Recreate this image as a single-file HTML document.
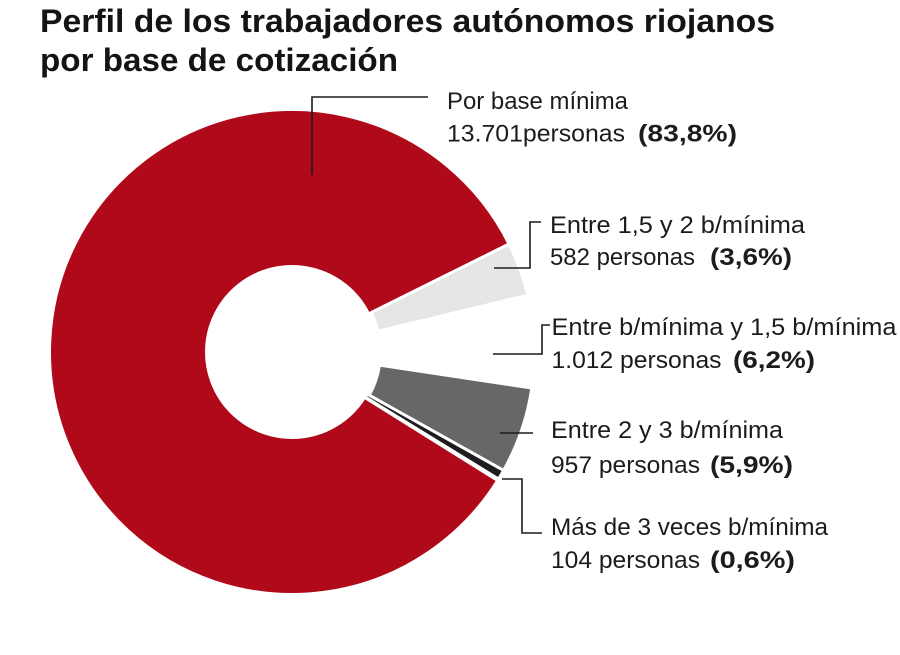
<!DOCTYPE html>
<html>
<head>
<meta charset="utf-8">
<style>
  html, body { margin:0; padding:0; background:#ffffff; }
  svg { display:block; }
  .t { font-family: "Liberation Sans", "DejaVu Sans", sans-serif; font-size:24px; fill:#1c1c1c; }
  .b { font-family: "Liberation Sans", "DejaVu Sans", sans-serif; font-size:24px; font-weight:bold; fill:#1c1c1c; }
  .h { font-family: "Liberation Sans", "DejaVu Sans", sans-serif; font-size:32px; font-weight:bold; fill:#141414; }
</style>
</head>
<body>
<svg width="900" height="655" viewBox="0 0 900 655" xmlns="http://www.w3.org/2000/svg">
  <rect x="0" y="0" width="900" height="655" fill="#ffffff"/>

  <!-- Title -->
  <text class="h" x="40" y="32" textLength="735" lengthAdjust="spacingAndGlyphs">Perfil de los trabajadores autónomos riojanos</text>
  <text class="h" x="40" y="71" textLength="358" lengthAdjust="spacingAndGlyphs">por base de cotización</text>

  <!-- Donut slices -->
  <g stroke="#ffffff" stroke-width="3" stroke-linejoin="miter">
    <path d="M 497.65 480.51 A 242.5 242.5 0 1 1 509.14 244.02 L 368.56 313.93 A 85.5 85.5 0 1 0 364.51 397.31 Z" fill="#b00a1a"/>
    <path d="M 509.14 244.02 A 242.5 242.5 0 0 1 527.75 295.18 L 378.04 331.26 A 88.5 88.5 0 0 0 371.24 312.59 Z" fill="#e6e6e6"/>
    <path d="M 531.81 388.05 A 242.5 242.5 0 0 1 503.58 470.49 L 369.22 395.24 A 88.5 88.5 0 0 0 379.52 365.16 Z" fill="#666769"/>
    <path d="M 503.58 470.49 A 242.5 242.5 0 0 1 498.54 479.07 L 365.25 397.06 A 86 86 0 0 0 367.04 394.02 Z" fill="#1d1d1d"/>
  </g>

  <!-- Leader lines -->
  <g fill="none" stroke="#1c1c1c" stroke-width="1.6">
    <polyline points="312,175 312,97 428,97"/>
    <polyline points="494,268 530,268 530,222 541,222"/>
    <polyline points="493,354 542,354 542,325 550,325"/>
    <polyline points="500,433 533,433"/>
    <polyline points="502,479 522,479 522,533 542,533"/>
  </g>

  <!-- Labels -->
  <text class="t" x="447" y="109" textLength="181" lengthAdjust="spacingAndGlyphs">Por base mínima</text>
  <text class="t" x="447" y="141.5" textLength="178" lengthAdjust="spacingAndGlyphs">13.701personas</text>
  <text class="b" x="638" y="141.5" textLength="99" lengthAdjust="spacingAndGlyphs">(83,8%)</text>

  <text class="t" x="550" y="233" textLength="255" lengthAdjust="spacingAndGlyphs">Entre 1,5 y 2 b/mínima</text>
  <text class="t" x="550" y="265" textLength="145" lengthAdjust="spacingAndGlyphs">582 personas</text>
  <text class="b" x="710" y="265" textLength="82" lengthAdjust="spacingAndGlyphs">(3,6%)</text>

  <text class="t" x="551.5" y="335" textLength="345" lengthAdjust="spacingAndGlyphs">Entre b/mínima y 1,5 b/mínima</text>
  <text class="t" x="551.5" y="368" textLength="170" lengthAdjust="spacingAndGlyphs">1.012 personas</text>
  <text class="b" x="733" y="368" textLength="82" lengthAdjust="spacingAndGlyphs">(6,2%)</text>

  <text class="t" x="551" y="438" textLength="232" lengthAdjust="spacingAndGlyphs">Entre 2 y 3 b/mínima</text>
  <text class="t" x="551" y="473" textLength="149" lengthAdjust="spacingAndGlyphs">957 personas</text>
  <text class="b" x="710" y="473" textLength="83" lengthAdjust="spacingAndGlyphs">(5,9%)</text>

  <text class="t" x="551" y="535" textLength="277" lengthAdjust="spacingAndGlyphs">Más de 3 veces b/mínima</text>
  <text class="t" x="551" y="568" textLength="149" lengthAdjust="spacingAndGlyphs">104 personas</text>
  <text class="b" x="710" y="568" textLength="85" lengthAdjust="spacingAndGlyphs">(0,6%)</text>
</svg>
</body>
</html>
